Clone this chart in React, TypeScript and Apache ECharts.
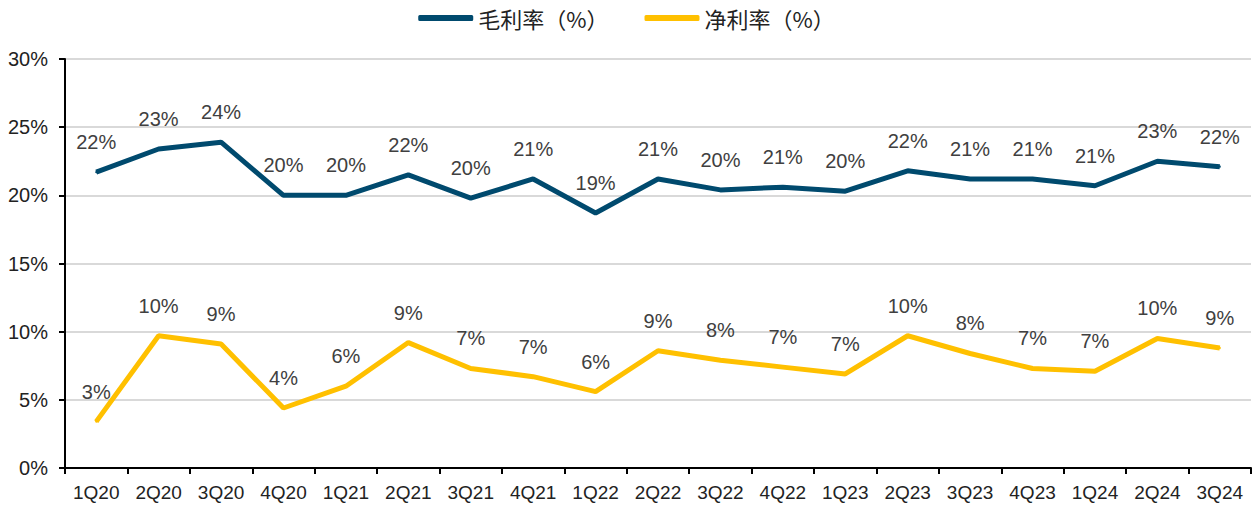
import React, { useEffect, useRef } from "react";
import * as echarts from "echarts";

const categories = ["1Q20","2Q20","3Q20","4Q20","1Q21","2Q21","3Q21","4Q21","1Q22","2Q22","3Q22","4Q22","1Q23","2Q23","3Q23","4Q23","1Q24","2Q24","3Q24"];
const grossMargin = [21.7,23.4,23.9,20.0,20.0,21.5,19.8,21.2,18.7,21.2,20.4,20.6,20.3,21.8,21.2,21.2,20.7,22.5,22.1];
const netMargin = [3.4,9.7,9.1,4.4,6.0,9.2,7.3,6.7,5.6,8.6,7.9,7.4,6.9,9.7,8.4,7.3,7.1,9.5,8.8];
const yTicks = [0, 5, 10, 15, 20, 25, 30];

export default function App() {
  const ref = useRef<HTMLDivElement>(null);
  useEffect(() => {
    if (!ref.current) return;
    const chart = echarts.init(ref.current, undefined, { renderer: "svg" });
    const font = "Arial, 'Liberation Sans', sans-serif";
    const labelCfg = {
      show: true,
      position: "top",
      distance: 19,
      fontSize: 20,
      color: "#404040",
      fontFamily: font,
      formatter: (p: any) => Math.round(p.value) + "%",
    };
    chart.setOption({
      animation: false,
      legend: {
        top: 2,
        left: "center",
        itemWidth: 55,
        itemHeight: 6,
        itemGap: 36,
        icon: "roundRect",
        textStyle: { fontSize: 22, color: "#222", fontFamily: "'Noto Sans CJK SC', sans-serif" },
        data: ["毛利率（%）", "净利率（%）"],
      },
      grid: { left: 65, right: 2, top: 59, bottom: 39, containLabel: false },
      xAxis: {
        type: "category",
        data: categories,
        boundaryGap: true,
        axisLine: { lineStyle: { color: "#000", width: 2 } },
        axisTick: { show: true, length: 6, lineStyle: { color: "#000", width: 2 } },
        axisLabel: { fontSize: 19, color: "#222", fontFamily: font, margin: 15 },
      },
      yAxis: {
        type: "value",
        min: yTicks[0],
        max: yTicks[yTicks.length - 1],
        interval: 5,
        axisLine: { show: true, lineStyle: { color: "#000", width: 2 } },
        axisTick: { show: true, length: 6, lineStyle: { color: "#000", width: 2 } },
        splitLine: { lineStyle: { color: "#d9d9d9", width: 2 } },
        axisLabel: { fontSize: 20, color: "#222", fontFamily: font, margin: 17, formatter: (v: number) => v + "%" },
      },
      series: [
        {
          name: "毛利率（%）",
          type: "line",
          data: grossMargin,
          symbol: "circle",
          symbolSize: 2,
          showSymbol: true,
          lineStyle: { color: "#004a6e", width: 5 },
          itemStyle: { color: "#004a6e" },
          label: labelCfg,
        },
        {
          name: "净利率（%）",
          type: "line",
          data: netMargin,
          symbol: "circle",
          symbolSize: 2,
          showSymbol: true,
          lineStyle: { color: "#ffc000", width: 5 },
          itemStyle: { color: "#ffc000" },
          label: labelCfg,
        },
      ],
    });
    return () => chart.dispose();
  }, []);
  return <div ref={ref} style={{ width: 1253, height: 507, position: "absolute", left: 0, top: 0 }} />;
}
